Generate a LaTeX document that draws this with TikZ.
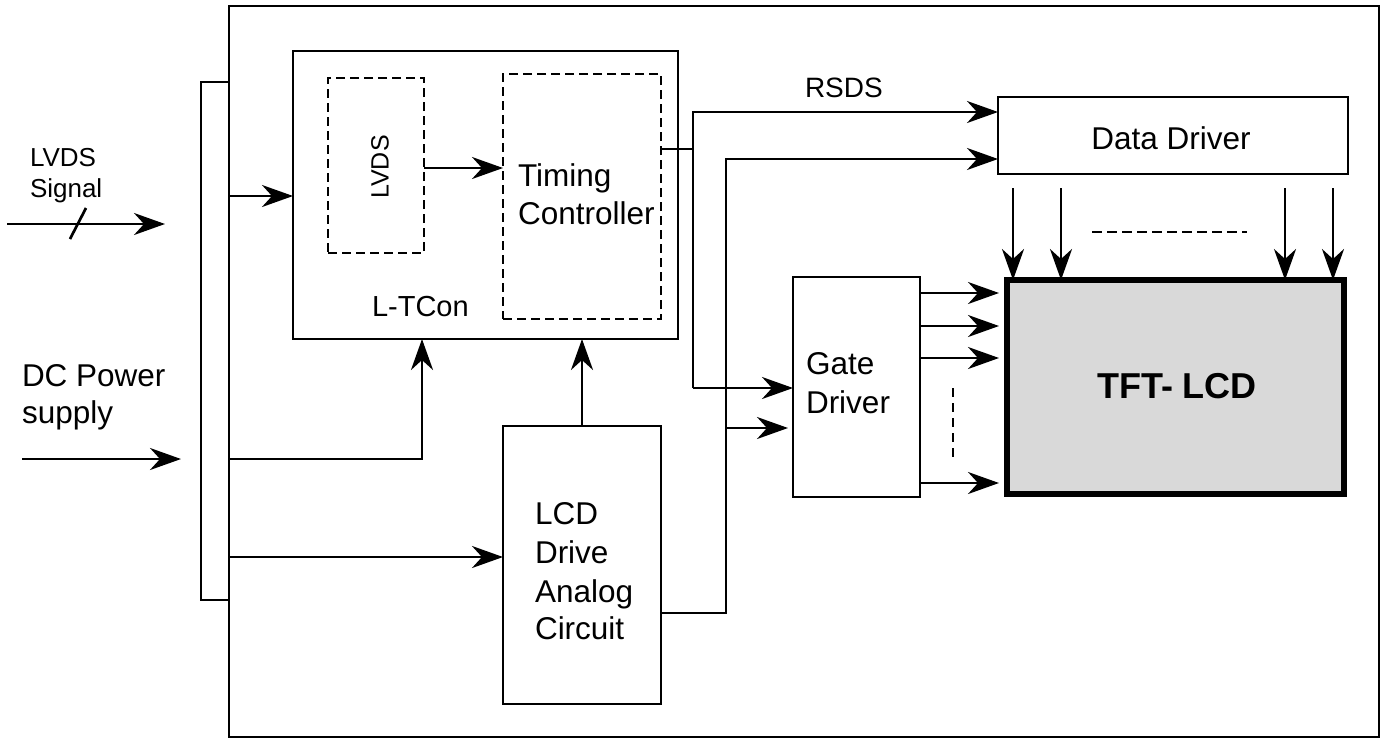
\documentclass[tikz,border=0pt]{standalone}
\usepackage{fontspec}
\setmainfont{Liberation Sans}
\usetikzlibrary{arrows.meta}
\definecolor{lcdgray}{RGB}{217,217,217}
\begin{document}
\begin{tikzpicture}[x=1pt,y=-1pt,
  line width=2.7pt,
  box/.style={draw,line width=2.7pt,inner sep=0pt,outer sep=0pt},
  dbox/.style={box,dash pattern=on 9pt off 5pt},
  arr/.style={-{Stealth[length=31pt,width=22pt,inset=10pt]}},
  lbl/.style={inner sep=0pt,outer sep=0pt,anchor=base west,font=\fontsize{31.5}{38}\selectfont},
  slbl/.style={lbl,font=\fontsize{26}{31}\selectfont},
]
\useasboundingbox (0,0) rectangle (1388,740);

% boxes
\node[box,minimum width=1150pt,minimum height=731pt] (frame) at (804,371.5) {};
\node[box,minimum width=28pt,minimum height=518pt] (bar) at (215,341) {};
\node[box,minimum width=385pt,minimum height=288pt] (ltcon) at (485.5,195) {};
\node[dbox,minimum width=96pt,minimum height=175pt] (lvdsb) at (376,165.5) {};
\node[dbox,minimum width=158pt,minimum height=245pt] (tcb) at (582,196.5) {};
\node[box,minimum width=350pt,minimum height=77pt] (dd) at (1173,135.5) {};
\node[box,minimum width=127pt,minimum height=220pt] (gate) at (856.5,387) {};
\node[box,minimum width=158pt,minimum height=278pt] (analog) at (582,565) {};
\node[box,line width=6pt,fill=lcdgray,minimum width=337pt,minimum height=214pt] (tft) at (1175.5,387) {};

% texts
\node[slbl] (tlvds) at (30,166) {LVDS};
\node[slbl] (tsig) at (30,197) {Signal};
\node[lbl] (tdc) at (22,386) {DC Power};
\node[lbl] (tsup) at (22,423) {supply};
\node[lbl] (ttim) at (518,186) {Timing};
\node[lbl] (tcon) at (518,224) {Controller};
\node[lbl,font=\fontsize{29}{34}\selectfont] (tlt) at (372,316) {L-TCon};
\node[inner sep=0pt,rotate=90,font=\fontsize{25}{30}\selectfont] (tlv) at (380,167) {LVDS};
\node[lbl,font=\fontsize{28}{33}\selectfont] (trs) at (805,97) {RSDS};
\node[lbl,anchor=base] (tdd) at (1171,149) {Data Driver};
\node[lbl,font=\fontsize{36}{42}\selectfont\bfseries] (ttft) at (1097,398) {TFT- LCD};
\node[lbl] (tg1) at (806,374) {Gate};
\node[lbl] (tg2) at (806,413) {Driver};
\node[lbl] (ta1) at (535,524) {LCD};
\node[lbl] (ta2) at (535,563) {Drive};
\node[lbl] (ta3) at (535,602) {Analog};
\node[lbl] (ta4) at (535,639) {Circuit};

% inputs
\coordinate (lvdsin) at (7,224);
\coordinate (lvdsend) at (165,224);
\draw[arr] (lvdsin) -- (lvdsend);
\draw (70,239) -- (86,208);
\coordinate (dcin) at (22,459);
\coordinate (dcend) at (181,459);
\draw[arr] (dcin) -- (dcend);

% bar outputs
\draw[arr] (bar.east |- 0,196) -- (ltcon.west |- 0,196);
\draw[arr] (bar.east |- 0,459) -| (ltcon.south -| 422,0);
\draw[arr] (bar.east |- 0,557) -- (analog.west |- 0,557);
\draw[arr] (analog.north) -- (ltcon.south -| analog.north);

% inner
\draw[arr] (lvdsb.east |- 0,168) -- (tcb.west |- 0,168);

% timing controller outputs
\coordinate (j1) at (693,149);
\coordinate (ja) at (693,112);
\coordinate (jb) at (693,388);
\draw (tcb.east |- j1) -- (j1);
\draw[arr] (jb) -- (ja) -- (dd.west |- ja);
\draw[arr] (jb) -- (gate.west |- jb);

% analog circuit outputs
\coordinate (k1) at (726,613);
\coordinate (k2) at (726,159);
\coordinate (k3) at (726,428);
\coordinate (k3end) at (788,428);
\draw[arr] (analog.east |- k1) -- (k1) -- (k2) -- (dd.west |- k2);
\draw[arr] (k3) -- (k3end);

% data driver to panel
\foreach \x in {1013,1061,1285,1333}
  \draw[arr] (\x,188) -- (tft.north -| \x,0);
\draw[dash pattern=on 10pt off 5pt] (1092,232) -- (1247,232);

% gate driver to panel
\foreach \y in {293,326,358,483}
  \draw[arr,shorten >=8pt] (gate.east |- 0,\y) -- (tft.west |- 0,\y);
\draw[dash pattern=on 9pt off 6pt] (953,388) -- (953,462);
\end{tikzpicture}
\end{document}
